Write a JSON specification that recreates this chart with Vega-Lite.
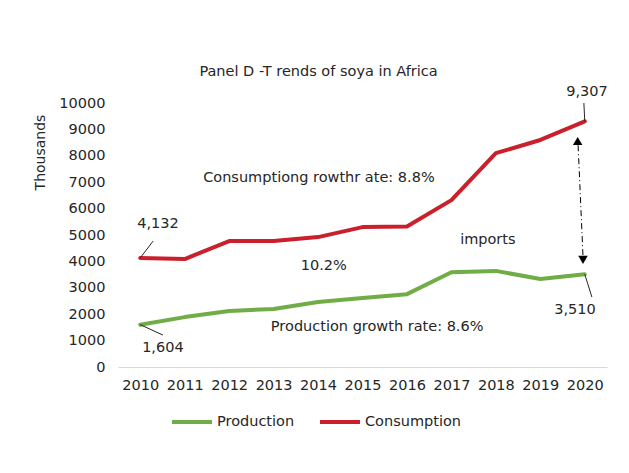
{
  "$schema": "https://vega.github.io/schema/vega-lite/v6.json",
  "autosize": "none",
  "width": 489,
  "height": 264,
  "padding": {"left": 118, "top": 103, "right": 22, "bottom": 106},
  "background": "white",
  "title": {"text": "Panel D -T rends of soya in Africa", "fontSize": 14.5, "fontWeight": "normal", "font": "DejaVu Sans", "color": "#262626", "offset": 5, "anchor": "middle", "dx": -44},
  "config": {
    "view": {"stroke": null},
    "font": "DejaVu Sans",
    "axis": {"labelFont": "DejaVu Sans", "labelFontSize": 14.5, "labelColor": "#262626", "titleFont": "DejaVu Sans", "titleFontWeight": "normal", "titleColor": "#262626", "grid": false, "ticks": false, "labelOverlap": false},
    "legend": {"labelFont": "DejaVu Sans", "labelFontSize": 14.5, "labelColor": "#262626"}
  },
  "datasets": {
    "series": [
      {"year": 2010, "series": "Production", "value": 1604},
      {"year": 2011, "series": "Production", "value": 1890},
      {"year": 2012, "series": "Production", "value": 2120},
      {"year": 2013, "series": "Production", "value": 2200},
      {"year": 2014, "series": "Production", "value": 2460},
      {"year": 2015, "series": "Production", "value": 2610},
      {"year": 2016, "series": "Production", "value": 2760},
      {"year": 2017, "series": "Production", "value": 3590},
      {"year": 2018, "series": "Production", "value": 3640},
      {"year": 2019, "series": "Production", "value": 3330},
      {"year": 2020, "series": "Production", "value": 3510},
      {"year": 2010, "series": "Consumption", "value": 4132},
      {"year": 2011, "series": "Consumption", "value": 4090},
      {"year": 2012, "series": "Consumption", "value": 4770},
      {"year": 2013, "series": "Consumption", "value": 4770},
      {"year": 2014, "series": "Consumption", "value": 4920},
      {"year": 2015, "series": "Consumption", "value": 5300},
      {"year": 2016, "series": "Consumption", "value": 5320},
      {"year": 2017, "series": "Consumption", "value": 6320},
      {"year": 2018, "series": "Consumption", "value": 8100},
      {"year": 2019, "series": "Consumption", "value": 8600},
      {"year": 2020, "series": "Consumption", "value": 9307}
    ],
    "labels": [
      {"year": 2010.4, "value": 5420, "text": "4,132"},
      {"year": 2020.05, "value": 10400, "text": "9,307"},
      {"year": 2010.51, "value": 720, "text": "1,604"},
      {"year": 2019.78, "value": 2160, "text": "3,510"},
      {"year": 2014.02, "value": 7160, "text": "Consumptiong rowthr ate: 8.8%"},
      {"year": 2017.82, "value": 4810, "text": "imports"},
      {"year": 2014.13, "value": 3826, "text": "10.2%"},
      {"year": 2015.33, "value": 1515, "text": "Production growth rate: 8.6%"}
    ],
    "leaders": [
      {"year": 2010, "value": 4132, "year2": 2010.29, "value2": 4770},
      {"year": 2020, "value": 9307, "year2": 2019.98, "value2": 10000},
      {"year": 2010, "value": 1604, "year2": 2010.51, "value2": 1210},
      {"year": 2020, "value": 3510, "year2": 2020.16, "value2": 2650}
    ],
    "arrowline": [
      {"year": 2019.85, "value": 8400, "year2": 2019.96, "value2": 4200}
    ],
    "heads": [
      {"year": 2019.84, "value": 8560, "shape": "triangle-up"},
      {"year": 2019.96, "value": 4060, "shape": "triangle-down"}
    ]
  },
  "encoding": {
    "x": {"field": "year", "type": "quantitative", "scale": {"domain": [2009.5, 2020.5], "nice": false, "zero": false},
          "axis": {"values": [2010, 2011, 2012, 2013, 2014, 2015, 2016, 2017, 2018, 2019, 2020], "format": "d", "title": null, "domainColor": "#d9d9d9", "domainWidth": 1, "labelPadding": 11, "labelOverlap": false}},
    "y": {"field": "value", "type": "quantitative", "scale": {"domain": [0, 10000], "nice": false},
          "axis": {"values": [0, 1000, 2000, 3000, 4000, 5000, 6000, 7000, 8000, 9000, 10000], "format": "d", "domain": false, "title": "Thousands", "titleFontSize": 14, "titleX": -71, "titleY": 49, "labelPadding": 13, "labelOverlap": false}}
  },
  "layer": [
    {
      "data": {"name": "series"},
      "mark": {"type": "line", "strokeWidth": 4, "strokeCap": "round", "strokeJoin": "round"},
      "encoding": {
        "color": {"field": "series", "type": "nominal",
                  "scale": {"domain": ["Production", "Consumption"], "range": ["#70AD47", "#C9202C"]},
                  "legend": {"title": null, "orient": "none", "direction": "horizontal", "legendX": 52, "legendY": 297, "symbolType": "stroke", "symbolStrokeWidth": 4, "symbolSize": 1600, "labelOffset": 3, "columnPadding": 17}}
      }
    },
    {
      "data": {"name": "leaders"},
      "mark": {"type": "rule", "color": "#262626", "strokeWidth": 1},
      "encoding": {
        "x2": {"field": "year2"},
        "y2": {"field": "value2"}
      }
    },
    {
      "data": {"name": "arrowline"},
      "mark": {"type": "rule", "color": "#000000", "strokeWidth": 1, "strokeDash": [6, 3, 1, 3]},
      "encoding": {
        "x2": {"field": "year2"},
        "y2": {"field": "value2"}
      }
    },
    {
      "data": {"name": "heads"},
      "mark": {"type": "point", "filled": true, "color": "#000000", "size": 90, "opacity": 1},
      "encoding": {
        "shape": {"field": "shape", "type": "nominal", "scale": null}
      }
    },
    {
      "data": {"name": "labels"},
      "mark": {"type": "text", "fontSize": 14.5, "color": "#262626", "font": "DejaVu Sans"},
      "encoding": {
        "text": {"field": "text"}
      }
    }
  ]
}
